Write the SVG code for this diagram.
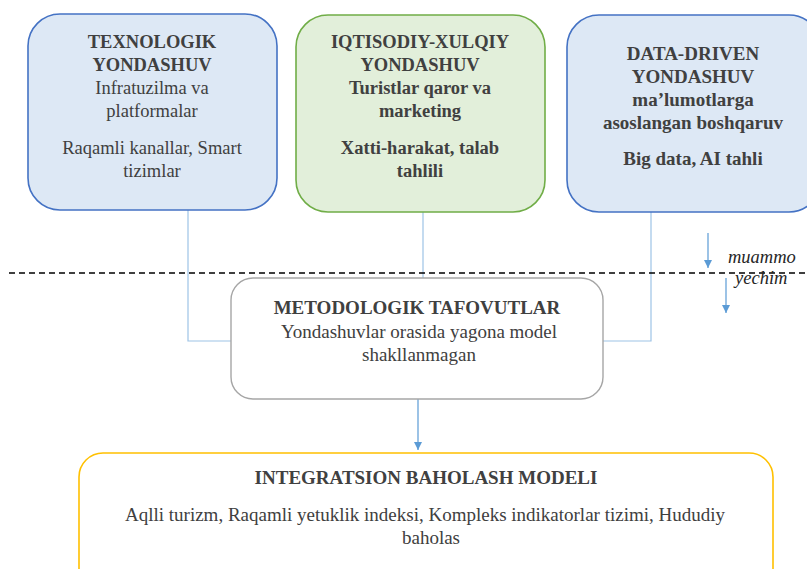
<svg xmlns="http://www.w3.org/2000/svg" width="807" height="569" viewBox="0 0 807 569">
<style>
.t{font-family:"Liberation Serif","Times New Roman",serif;font-size:18.5px;fill:#404040;text-anchor:middle}
.l{font-size:19px}
.b{font-weight:bold}
.i{font-family:"Liberation Serif","Times New Roman",serif;font-style:italic;font-size:18.5px;text-anchor:start;fill:#262626}
.conn{fill:none;stroke:#9dc3e6;stroke-width:1.2}
.arr{fill:none;stroke:#5b9bd5;stroke-width:1.2}
.blue{fill:#dde8f5;stroke:#4472c4;stroke-width:1.6}
.green{fill:#e2efda;stroke:#70ad47;stroke-width:1.6}
.gray{fill:#fff;stroke:#a6a6a6;stroke-width:1.4}
.yel{fill:#fff;stroke:#ffc000;stroke-width:1.6}
</style>
<defs>
<marker id="ah" viewBox="0 0 10 10" refX="10" refY="5" markerWidth="8" markerHeight="8" markerUnits="userSpaceOnUse" orient="auto">
<path d="M0,0 L10,5 L0,10 z" fill="#5b9bd5"/>
</marker>
</defs>
<rect width="807" height="569" fill="#fff"/>
<g id="connectors" font-family="Liberation Serif">
<path class="conn" d="M188,210 V341 H231"/>
<path class="conn" d="M423,212 V278"/>
<path class="conn" d="M651,212 V341 H603"/>
<path class="arr" d="M418,399 V450" marker-end="url(#ah)"/>
<path class="arr" d="M708,233 V268" marker-end="url(#ah)"/>
<path class="arr" d="M726,278 V313" marker-end="url(#ah)"/>
<line x1="9" y1="273" x2="807" y2="273" stroke="#000" stroke-width="1.3" stroke-dasharray="6,4"/>
<text class="i" x="728" y="263">muammo</text>
<text class="i" x="735" y="284">yechim</text>
</g>
<g id="texnologik" font-family="Liberation Serif">
<rect class="blue" x="28" y="14" width="249" height="196" rx="32"/>
<text class="t b" x="152" y="48">TEXNOLOGIK</text>
<text class="t b" x="152" y="71">YONDASHUV</text>
<text class="t" x="152" y="94">Infratuzilma va</text>
<text class="t" x="152" y="117">platformalar</text>
<text class="t" x="152" y="154">Raqamli kanallar, Smart</text>
<text class="t" x="152" y="177">tizimlar</text>
</g>
<g id="iqtisodiy" font-family="Liberation Serif">
<rect class="green" x="296" y="15" width="249" height="197" rx="32"/>
<text class="t b" x="420" y="48">IQTISODIY-XULQIY</text>
<text class="t b" x="420" y="71">YONDASHUV</text>
<text class="t b" x="420" y="94">Turistlar qaror va</text>
<text class="t b" x="420" y="117">marketing</text>
<text class="t b" x="420" y="154">Xatti-harakat, talab</text>
<text class="t b" x="420" y="177">tahlili</text>
</g>
<g id="datadriven" font-family="Liberation Serif">
<rect class="blue" x="567" y="15" width="254" height="197" rx="32"/>
<text class="t l b" x="693" y="60">DATA-DRIVEN</text>
<text class="t l b" x="693" y="83">YONDASHUV</text>
<text class="t l b" x="693" y="106">ma’lumotlarga</text>
<text class="t l b" x="693" y="129">asoslangan boshqaruv</text>
<text class="t l b" x="693" y="165">Big data, AI tahli</text>
</g>
<g id="metodologik" font-family="Liberation Serif">
<rect class="gray" x="231" y="278" width="372" height="121" rx="22"/>
<text class="t l b" x="417" y="314">METODOLOGIK TAFOVUTLAR</text>
<text class="t l" x="419" y="338">Yondashuvlar orasida yagona model</text>
<text class="t l" x="419" y="361">shakllanmagan</text>
</g>
<g id="integratsion" font-family="Liberation Serif">
<rect class="yel" x="79" y="453" width="694" height="140" rx="24"/>
<text class="t l b" x="426" y="484">INTEGRATSION BAHOLASH MODELI</text>
<text class="t l" x="425" y="521">Aqlli turizm, Raqamli yetuklik indeksi, Kompleks indikatorlar tizimi, Hududiy</text>
<text class="t l" x="431" y="544">baholas</text>
</g>
</svg>
